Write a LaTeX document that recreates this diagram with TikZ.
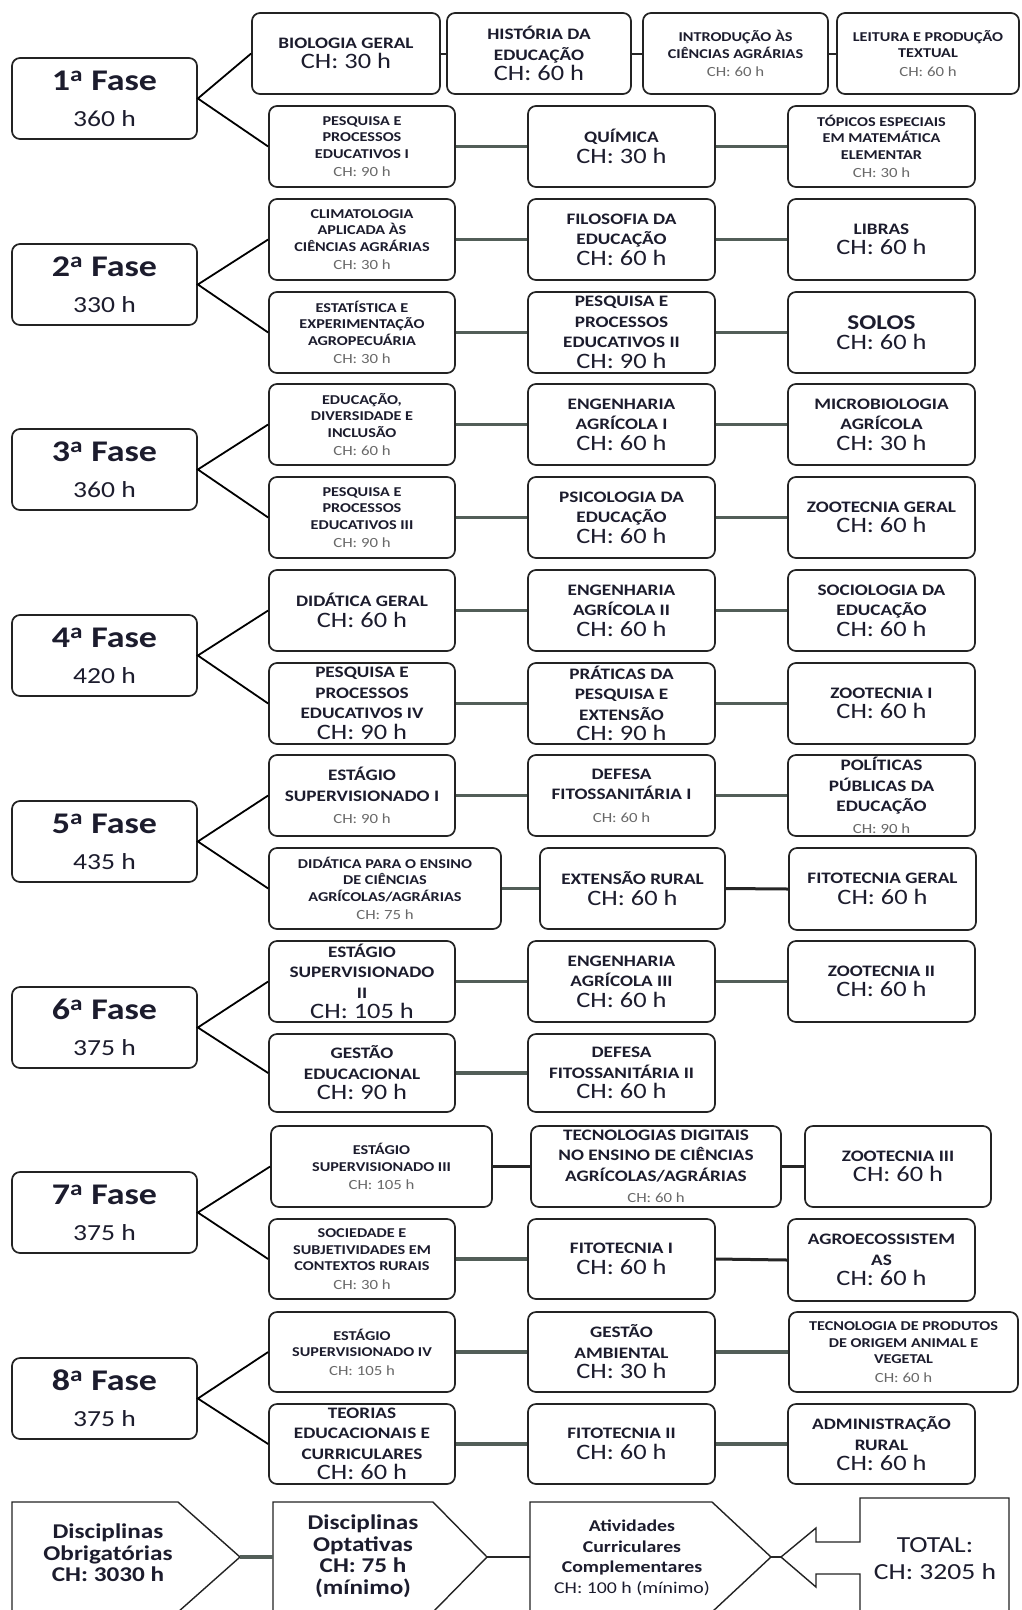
\documentclass[tikz,border=0pt]{standalone}
\usepackage{fontspec}
\setmainfont{Carlito}[FakeStretch=1.2]
\definecolor{txt}{RGB}{28,28,45}
\definecolor{boxc}{RGB}{35,35,35}
\definecolor{conc}{RGB}{82,94,88}
\definecolor{chgray}{RGB}{105,105,105}
\tikzset{
  dbox/.style={draw=boxc, line width=1.7pt, rounded corners=8pt, fill=white, inner sep=0pt},
  btxt/.style={align=center, text=txt, inner sep=0pt},
  big/.style={font=\fontsize{16}{20.5}\selectfont\bfseries},
  small/.style={font=\fontsize{13.5}{16.5}\selectfont\bfseries},
  fasetxt/.style={font=\fontsize{23}{36}\selectfont},
  branch/.style={draw=black, line width=1.8pt},
  hconn/.style={draw=conc, line width=3.5pt},
  hconnk/.style={draw=black!85, line width=3pt},
  shp/.style={draw=boxc, line width=1.4pt, fill=white, line join=miter},
  bottomfont/.style={font=\fontsize{21}{21.5}\selectfont\bfseries},
  atvfont/.style={font=\fontsize{16.5}{20.5}\selectfont\bfseries},
  totfont/.style={font=\fontsize{23}{27}\selectfont},
}
\newcommand\discbox[7][]{%
  \pgfmathsetmacro\dbw{#5-#3}%
  \pgfmathsetmacro\dbh{#6-#4}%
  \node[dbox,minimum width=\dbw pt,minimum height=\dbh pt] (#2) at ({(#3+#5)/2},{(#4+#6)/2}) {};
  \node[btxt,#1] (#2-t) at (#2.center) {#7};}
\newcommand\chb[1]{{\mdseries\fontsize{22}{24}\selectfont #1}}
\newcommand\chs[1]{{\mdseries\fontsize{14}{17}\selectfont\color{chgray}#1}}
\newcommand\fasebox[4]{%
  \pgfmathsetmacro\fy{#2+81}%
  \discbox[fasetxt]{#1}{12}{#2}{197}{\fy}{{\bfseries\fontsize{30}{34}\selectfont #3\textsuperscript{a} Fase}\\{\fontsize{23}{36}\selectfont #4 h}}}
\begin{document}
\begin{tikzpicture}[x=1pt,y=-1pt]
\useasboundingbox[fill=white] (0,0) rectangle (1021,1610);

% ---------------- Fase 1
\fasebox{f1}{58}{1}{360}
\discbox[big]{bio}{252}{13}{440}{94}{BIOLOGIA GERAL\\\chb{CH: 30 h}}
\discbox[big]{hist}{447}{13}{631}{94}{HISTÓRIA DA\\EDUCAÇÃO\\\chb{CH: 60 h}}
\discbox[small]{intro}{643}{13}{828}{94}{INTRODUÇÃO ÀS\\CIÊNCIAS AGRÁRIAS\\[2pt]\chs{CH: 60 h}}
\discbox[small]{leit}{837}{13}{1019}{94}{LEITURA E PRODUÇÃO\\TEXTUAL\\[2pt]\chs{CH: 60 h}}
\discbox[small]{pes1}{269}{106}{455}{187}{PESQUISA E\\PROCESSOS\\EDUCATIVOS I\\[2pt]\chs{CH: 90 h}}
\discbox[big]{qui}{528}{106}{715}{187}{QUÍMICA\\\chb{CH: 30 h}}
\discbox[small]{top}{788}{106}{975}{187}{TÓPICOS ESPECIAIS\\EM MATEMÁTICA\\ELEMENTAR\\[2pt]\chs{CH: 30 h}}

% ---------------- Fase 2
\fasebox{f2}{244}{2}{330}
\discbox[small]{clim}{269}{199}{455}{280}{CLIMATOLOGIA\\APLICADA ÀS\\CIÊNCIAS AGRÁRIAS\\[2pt]\chs{CH: 30 h}}
\discbox[big]{filo}{528}{199}{715}{280}{FILOSOFIA DA\\EDUCAÇÃO\\\chb{CH: 60 h}}
\discbox[big]{lib}{788}{199}{975}{280}{LIBRAS\\\chb{CH: 60 h}}
\discbox[small]{est}{269}{292}{455}{373}{ESTATÍSTICA E\\EXPERIMENTAÇÃO\\AGROPECUÁRIA\\[2pt]\chs{CH: 30 h}}
\discbox[big]{pes2}{528}{292}{715}{373}{PESQUISA E\\PROCESSOS\\EDUCATIVOS II\\\chb{CH: 90 h}}
\discbox[big]{sol}{788}{292}{975}{373}{{\fontsize{21}{24}\selectfont SOLOS}\\\chb{CH: 60 h}}

% ---------------- Fase 3
\fasebox{f3}{429}{3}{360}
\discbox[small]{edu}{269}{384}{455}{465}{EDUCAÇÃO,\\DIVERSIDADE E\\INCLUSÃO\\[2pt]\chs{CH: 60 h}}
\discbox[big]{eng1}{528}{384}{715}{465}{ENGENHARIA\\AGRÍCOLA I\\\chb{CH: 60 h}}
\discbox[big]{micro}{788}{384}{975}{465}{MICROBIOLOGIA\\AGRÍCOLA\\\chb{CH: 30 h}}
\discbox[small]{pes3}{269}{477}{455}{558}{PESQUISA E\\PROCESSOS\\EDUCATIVOS III\\[2pt]\chs{CH: 90 h}}
\discbox[big]{psi}{528}{477}{715}{558}{PSICOLOGIA DA\\EDUCAÇÃO\\\chb{CH: 60 h}}
\discbox[big]{zoog}{788}{477}{975}{558}{ZOOTECNIA GERAL\\\chb{CH: 60 h}}

% ---------------- Fase 4
\fasebox{f4}{615}{4}{420}
\discbox[big]{dig}{269}{570}{455}{651}{DIDÁTICA GERAL\\\chb{CH: 60 h}}
\discbox[big]{eng2}{528}{570}{715}{651}{ENGENHARIA\\AGRÍCOLA II\\\chb{CH: 60 h}}
\discbox[big]{soc}{788}{570}{975}{651}{SOCIOLOGIA DA\\EDUCAÇÃO\\\chb{CH: 60 h}}
\discbox[big]{pes4}{269}{663}{455}{744}{PESQUISA E\\PROCESSOS\\EDUCATIVOS IV\\\chb{CH: 90 h}}
\discbox[big]{prat}{528}{663}{715}{744}{PRÁTICAS DA\\PESQUISA E\\EXTENSÃO\\\chb{CH: 90 h}}
\discbox[big]{zoo1}{788}{663}{975}{744}{ZOOTECNIA I\\\chb{CH: 60 h}}

% ---------------- Fase 5
\fasebox{f5}{801}{5}{435}
\discbox[big]{est1}{269}{755}{455}{836}{ESTÁGIO\\SUPERVISIONADO I\\[2pt]\chs{CH: 90 h}}
\discbox[big]{def1}{528}{755}{715}{836}{DEFESA\\FITOSSANITÁRIA I\\[2pt]\chs{CH: 60 h}}
\discbox[big]{pol}{788}{755}{975}{836}{POLÍTICAS\\PÚBLICAS DA\\EDUCAÇÃO\\[1pt]\chs{CH: 90 h}}
\discbox[small]{didp}{269}{848}{501}{929}{DIDÁTICA PARA O ENSINO\\DE CIÊNCIAS\\AGRÍCOLAS/AGRÁRIAS\\[2pt]\chs{CH: 75 h}}
\discbox[big]{ext}{540}{848}{725}{929}{EXTENSÃO RURAL\\\chb{CH: 60 h}}
\discbox[big]{fitg}{789}{848}{976}{930}{FITOTECNIA GERAL\\\chb{CH: 60 h}}

% ---------------- Fase 6
\fasebox{f6}{987}{6}{375}
\discbox[big]{est2}{269}{941}{455}{1022}{ESTÁGIO\\SUPERVISIONADO\\II\\\chb{CH: 105 h}}
\discbox[big]{eng3}{528}{941}{715}{1022}{ENGENHARIA\\AGRÍCOLA III\\\chb{CH: 60 h}}
\discbox[big]{zoo2}{788}{941}{975}{1022}{ZOOTECNIA II\\\chb{CH: 60 h}}
\discbox[big]{gest}{269}{1034}{455}{1112}{GESTÃO\\EDUCACIONAL\\\chb{CH: 90 h}}
\discbox[big]{def2}{528}{1034}{715}{1112}{DEFESA\\FITOSSANITÁRIA II\\\chb{CH: 60 h}}

% ---------------- Fase 7
\fasebox{f7}{1172}{7}{375}
\discbox[small]{est3}{271}{1126}{492}{1207}{ESTÁGIO\\SUPERVISIONADO III\\[2pt]\chs{CH: 105 h}}
\discbox[big]{tec}{531}{1126}{781}{1207}{TECNOLOGIAS DIGITAIS\\NO ENSINO DE CIÊNCIAS\\AGRÍCOLAS/AGRÁRIAS\\[1pt]\chs{CH: 60 h}}
\discbox[big]{zoo3}{805}{1126}{991}{1207}{ZOOTECNIA III\\\chb{CH: 60 h}}
\discbox[small]{soci}{269}{1219}{455}{1299}{SOCIEDADE E\\SUBJETIVIDADES EM\\CONTEXTOS RURAIS\\[2pt]\chs{CH: 30 h}}
\discbox[big]{fit1}{528}{1219}{715}{1299}{FITOTECNIA I\\\chb{CH: 60 h}}
\discbox[big]{agro}{788}{1219}{975}{1301}{AGROECOSSISTEM\\AS\\\chb{CH: 60 h}}

% ---------------- Fase 8
\fasebox{f8}{1358}{8}{375}
\discbox[small]{est4}{269}{1312}{455}{1392}{ESTÁGIO\\SUPERVISIONADO IV\\[2pt]\chs{CH: 105 h}}
\discbox[big]{gamb}{528}{1312}{715}{1392}{GESTÃO\\AMBIENTAL\\\chb{CH: 30 h}}
\discbox[small]{tprod}{789}{1312}{1018}{1392}{TECNOLOGIA DE PRODUTOS\\DE ORIGEM ANIMAL E\\VEGETAL\\[2pt]\chs{CH: 60 h}}
\discbox[big]{teo}{269}{1404}{455}{1484}{TEORIAS\\EDUCACIONAIS E\\CURRICULARES\\\chb{CH: 60 h}}
\discbox[big]{fit2}{528}{1404}{715}{1484}{FITOTECNIA II\\\chb{CH: 60 h}}
\discbox[big]{adm}{788}{1404}{975}{1484}{ADMINISTRAÇÃO\\RURAL\\\chb{CH: 60 h}}

% ---------------- branches from the phases
\foreach \f/\u/\l in {f1/bio/pes1, f2/clim/est, f3/edu/pes3, f4/dig/pes4,
                      f5/est1/didp, f6/est2/gest, f7/est3/soci, f8/est4/teo}{
  \draw[branch] (\u.west) -- (\f.east) -- (\l.west);
}

% ---------------- horizontal connectors
\foreach \a/\b in {bio/hist, hist/intro, intro/leit}{
  \draw[hconnk, line width=2pt] (\a.east) -- (\b.west);
}
\foreach \a/\b in {pes1/qui, qui/top, clim/filo, filo/lib, est/pes2, pes2/sol,
                   edu/eng1, eng1/micro, pes3/psi, psi/zoog,
                   dig/eng2, eng2/soc, pes4/prat, prat/zoo1,
                   est1/def1, def1/pol, didp/ext,
                   est2/eng3, eng3/zoo2, gest/def2,
                   soci/fit1, est4/gamb, gamb/tprod, teo/fit2, fit2/adm}{
  \draw[hconn] (\a.east) -- (\b.west);
}
\foreach \a/\b in {ext/fitg, est3/tec, tec/zoo3, fit1/agro}{
  \draw[hconnk] (\a.east) -- (\b.west);
}

% ---------------- bottom row (shapes run past the lower edge of the page)
\draw[shp] (12,1502) -- (178,1502) -- (240,1557) -- (178,1612) -- (170,1630) -- (12,1630) -- cycle;
\coordinate (obrT) at (240,1557);
\node[btxt,bottomfont] (obr) at (108,1553) {Disciplinas\\Obrigatórias\\CH: 3030 h};

\draw[shp] (273,1502) -- (433,1502) -- (487,1557) -- (433,1612) -- (425,1630) -- (273,1630) -- cycle;
\coordinate (optL) at (273,1557);
\coordinate (optT) at (487,1557);
\node[btxt,bottomfont] (opt) at (363,1556) {Disciplinas\\Optativas\\CH: 75 h\\(mínimo)};

\draw[shp] (530,1502) -- (712,1502) -- (771,1557) -- (712,1612) -- (704,1630) -- (530,1630) -- cycle;
\coordinate (atvL) at (530,1557);
\coordinate (atvT) at (771,1557);
\node[btxt,atvfont] (atv) at (632,1558) {Atividades\\Curriculares\\Complementares\\{\mdseries CH: 100 h (mínimo)}};

\draw[shp] (781,1557) -- (816,1528) -- (816,1542) -- (860,1542) -- (860,1498)
  -- (1009,1498) -- (1009,1630) -- (860,1630) -- (860,1574) -- (816,1574)
  -- (816,1587) -- cycle;
\coordinate (totT) at (781,1557);
\node[btxt,totfont] (tot) at (935,1559) {TOTAL:\\CH: 3205 h};

\draw[hconn] (obrT) -- (optL);
\draw[hconnk, line width=2.5pt] (optT) -- (atvL);
\draw[hconnk, line width=2pt] (atvT) -- (totT);
\end{tikzpicture}
\end{document}
